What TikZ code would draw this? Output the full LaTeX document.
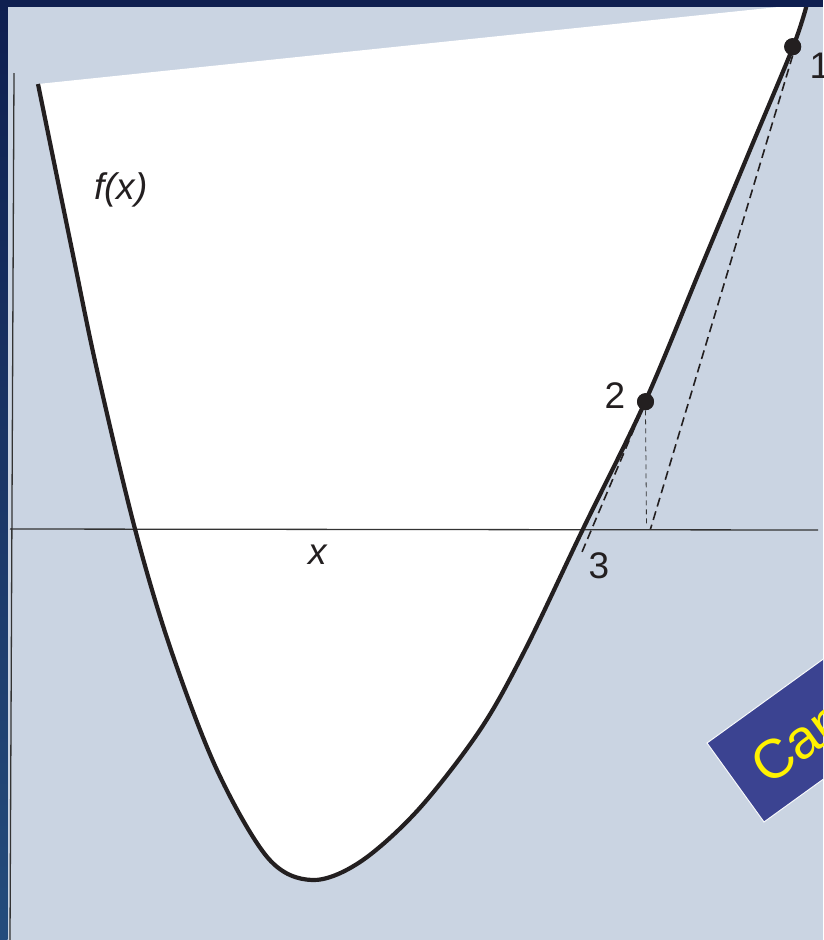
\documentclass[tikz,border=0pt]{standalone}
\usepackage{fontspec}
\setmainfont{Liberation Sans}
\definecolor{bgblue}{HTML}{CAD4E2}
\definecolor{navytop}{HTML}{0F1F50}
\definecolor{navybot}{HTML}{244C7C}
\definecolor{curveblk}{HTML}{231F20}
\definecolor{boxblue}{HTML}{3B4391}
\definecolor{axisgray}{HTML}{333333}
\tikzset{
  curveline/.style={draw=curveblk, line width=4.2pt, line join=round},
  axisline/.style={draw=axisgray, line width=1.3pt},
  tandash/.style={draw=curveblk, line width=1.6pt, dash pattern=on 9pt off 5pt},
  thindot/.style={draw=axisgray, line width=0.8pt, dash pattern=on 5pt off 4pt},
  ptdot/.style={circle, fill=curveblk, inner sep=0pt, minimum size=17pt},
  lbl/.style={font=\fontsize{37}{40}\selectfont, text=curveblk, inner sep=0pt},
}
\def\curvepts{(38,84) (72,250) (97,370) (135,529) (171,650) (217,770) (268,858) (312,880) (360,862) (418,810) (480,730) (525,650) (583,529) (645,402) (700,270) (750,150) (793,47) (807,4)}
\begin{document}
\begin{tikzpicture}[x=1pt,y=-1pt]
\useasboundingbox (0,0) rectangle (823,940);
\begin{scope}
\clip (0,0) rectangle (823,940);
% background
\fill[bgblue] (0,0) rectangle (823,940);
% white region bounded by the curve
\fill[white] plot[smooth, tension=0.55] coordinates {(38,84) (72,250) (97,370) (135,529) (171,650) (217,770) (268,858) (312,880) (360,862) (418,810) (480,730) (525,650) (583,529) (645,402) (700,270) (750,150) (793,47) (807,4)} -- cycle;
% blue label box
\fill[boxblue, draw=white!85!bgblue, line width=1pt] (707,743) -- (764,822) -- ++(324,-234) -- ++(-57,-79) -- cycle;
\node[rotate=35.8, anchor=west, inner sep=0pt, text=yellow, font=\fontsize{55}{60}\selectfont] (boxtext) at (757.3,771.7) {Can};
% axes
\coordinate (vtop) at (14,73);
\coordinate (vbot) at (10,940);
\coordinate (hleft) at (10,529);
\coordinate (hright) at (818,530);
\draw[axisline] (vtop) -- (vbot);
\draw[axisline] (hleft) -- (hright);
% points
\node[ptdot] (p1) at (792.7,46.7) {};
\node[ptdot] (p2) at (645.5,401.7) {};
\coordinate (a1) at (650.5,529);
\coordinate (a2) at (646.5,527);
\coordinate (a3) at (582,552);
% construction lines
\draw[tandash] (p1.south) -- (a1);
\draw[thindot] (p2.south) -- (a2);
\draw[tandash] (p2.center) -- (a3);
% curve
\draw[curveline] plot[smooth, tension=0.55] coordinates {(38,84) (72,250) (97,370) (135,529) (171,650) (217,770) (268,858) (312,880) (360,862) (418,810) (480,730) (525,650) (583,529) (645,402) (700,270) (750,150) (793,47) (807,4)};
\node[ptdot] at (p1) {};
\node[ptdot] at (p2) {};
% labels
\node[lbl] (l1) at (820,66) {1};
\node[lbl] (l2) at (615,396) {2};
\node[lbl] (l3) at (599,566) {3};
\node[lbl, font=\fontsize{37}{40}\selectfont\itshape] (lx) at (318,555) {x};
\node[lbl, font=\fontsize{37}{40}\selectfont\itshape] (lf) at (121,190) {f(x)};
% navy frame
\shade[top color=navytop, bottom color=navybot] (0,0) rectangle (7.5,940);
\fill[navytop] (0,0) rectangle (823,7);
\end{scope}
\end{tikzpicture}
\end{document}
